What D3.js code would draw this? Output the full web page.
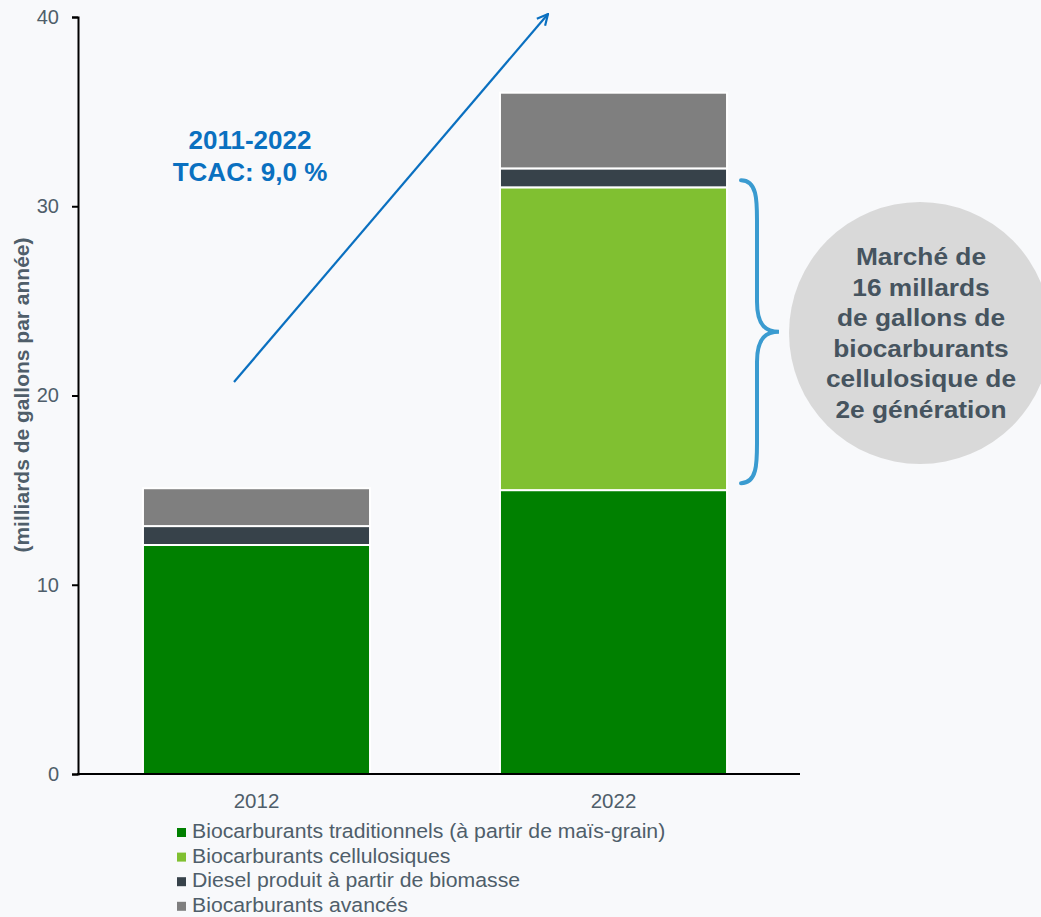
<!DOCTYPE html>
<html>
<head>
<meta charset="utf-8">
<script src="https://cdn.jsdelivr.net/npm/d3@7"></script>
<style>
  html, body { margin: 0; padding: 0; background: #f8f9fb; }
  svg { display: block; font-family: Arial, "Liberation Sans", sans-serif; }
</style>
</head>
<body>
<div id="chart"></div>
<script>
// data
const years = ['2012', '2022'];
const seriesNames = [
    'Biocarburants traditionnels (à partir de maïs-grain)',
    'Biocarburants cellulosiques',
    'Diesel produit à partir de biomasse',
    'Biocarburants avancés'
];
const traditionnels = [12.1, 15.0];
const cellulosiques = [0, 16.0];
const diesel = [1.0, 1.0];
const avances = [2.0, 4.0];
const yTicks = [0, 10, 20, 30, 40];
const colors = ['#008000', '#80c031', '#37424a', '#7f7f7f'];
const textColor = '#4f5e6a';
const fontFamily = 'Arial, "Liberation Sans", sans-serif';

const width = 1041, height = 917;
const svg = d3.select('#chart').append('svg')
    .attr('width', width)
    .attr('height', height);

// scales
const x = d3.scaleBand()
    .domain(years)
    .range([78, 792])
    .paddingInner(0.364)
    .paddingOuter(0.182);

const y = d3.scaleLinear()
    .domain([0, 40])
    .range([774, 17]);

// stack the series
const rows = years.map((yr, i) => ({
    year: yr,
    s0: traditionnels[i],
    s1: cellulosiques[i],
    s2: diesel[i],
    s3: avances[i]
}));
const stack = d3.stack().keys(['s0', 's1', 's2', 's3']);
const layers = stack(rows);

svg.append('g')
    .selectAll('g')
    .data(layers)
    .join('g')
    .attr('fill', (d, i) => colors[i])
    .selectAll('rect')
    .data(d => d.filter(p => p[1] - p[0] > 0))
    .join('rect')
    .attr('x', d => x(d.data.year))
    .attr('width', x.bandwidth())
    .attr('y', d => y(d[1]))
    .attr('height', d => y(d[0]) - y(d[1]))
    .attr('stroke', '#ffffff')
    .attr('stroke-width', 2);

// y axis
const yAxis = svg.append('g')
    .attr('transform', 'translate(78,0)')
    .call(d3.axisLeft(y).tickValues(yTicks).tickSize(6).tickPadding(13));
yAxis.select('.domain').attr('stroke', '#000').attr('stroke-width', 2);
yAxis.selectAll('.tick line').attr('stroke', '#000').attr('stroke-width', 2);
yAxis.selectAll('.tick text')
    .attr('fill', textColor)
    .style('font-size', '20px')
    .style('font-family', fontFamily);

// x axis
const xAxis = svg.append('g')
    .attr('transform', 'translate(0,774)')
    .call(d3.axisBottom(x).tickSize(0).tickPadding(19));
xAxis.select('.domain').remove();
xAxis.append('line')
    .attr('x1', 77).attr('x2', 800)
    .attr('stroke', '#000').attr('stroke-width', 2);
xAxis.selectAll('.tick text')
    .attr('fill', textColor)
    .style('font-size', '20.5px')
    .style('font-family', fontFamily);

// y axis title
svg.append('text')
    .attr('transform', 'translate(29,395) rotate(-90)')
    .attr('text-anchor', 'middle')
    .attr('fill', textColor)
    .style('font-size', '21px')
    .style('font-weight', 'bold')
    .text('(milliards de gallons par année)');

// growth arrow
svg.append('defs').append('marker')
    .attr('id', 'arrowhead')
    .attr('viewBox', '0 0 12 12')
    .attr('refX', 11).attr('refY', 6)
    .attr('markerWidth', 13).attr('markerHeight', 13)
    .attr('markerUnits', 'userSpaceOnUse')
    .attr('orient', 'auto')
    .append('path')
    .attr('d', 'M1,1 L11,6 L1,11')
    .attr('fill', 'none')
    .attr('stroke', '#0a70c0')
    .attr('stroke-width', 2);

svg.append('line')
    .attr('x1', 234).attr('y1', 382)
    .attr('x2', 548).attr('y2', 14)
    .attr('stroke', '#0a70c0')
    .attr('stroke-width', 2.2)
    .attr('marker-end', 'url(#arrowhead)');

const cagr = svg.append('text')
    .attr('text-anchor', 'middle')
    .attr('fill', '#0a70c0')
    .style('font-size', '26px')
    .style('font-weight', 'bold');
cagr.append('tspan').attr('x', 250).attr('y', 149).text('2011-2022');
cagr.append('tspan').attr('x', 250).attr('y', 181).text('TCAC: 9,0 %');

// brace next to the cellulosic segment
const bTop = y(traditionnels[1] + cellulosiques[1]) - 7;
const bBot = y(traditionnels[1]) - 7;
const bMid = (bTop + bBot) / 2;
const bx = 741;
svg.append('path')
    .attr('d', `M${bx},${bTop} C${bx + 16},${bTop} ${bx + 16},${bTop + 20} ${bx + 16},${bTop + 40}
                L${bx + 16},${bMid - 30}
                C${bx + 16},${bMid - 5} ${bx + 26},${bMid} ${bx + 38},${bMid}
                C${bx + 26},${bMid} ${bx + 16},${bMid + 5} ${bx + 16},${bMid + 30}
                L${bx + 16},${bBot - 40}
                C${bx + 16},${bBot - 20} ${bx + 16},${bBot} ${bx},${bBot}`)
    .attr('fill', 'none')
    .attr('stroke', '#3a9bd0')
    .attr('stroke-width', 4)
    .attr('stroke-linecap', 'round');

// market bubble
svg.append('circle')
    .attr('cx', 920).attr('cy', 333).attr('r', 131)
    .attr('fill', '#d9d9d9');

const bubbleLines = ['Marché de', '16 millards', 'de gallons de', 'biocarburants', 'cellulosique de', '2e génération'];
svg.append('text')
    .attr('transform', 'translate(921,0) scale(1.12,1)')
    .attr('text-anchor', 'middle')
    .attr('fill', '#46545f')
    .style('font-size', '23.5px')
    .style('font-weight', 'bold')
    .selectAll('tspan')
    .data(bubbleLines)
    .join('tspan')
    .attr('x', 0)
    .attr('y', (d, i) => 265 + i * 30.6)
    .text(d => d);

// legend
const legend = svg.append('g')
    .attr('transform', 'translate(177,838)');
const item = legend.selectAll('g')
    .data(seriesNames)
    .join('g')
    .attr('transform', (d, i) => `translate(0,${i * 24.6})`);
item.append('rect')
    .attr('x', 0).attr('y', -10)
    .attr('width', 9).attr('height', 9)
    .attr('fill', (d, i) => colors[i]);
item.append('text')
    .attr('transform', 'translate(15,0) scale(1.09,1)')
    .attr('fill', textColor)
    .style('font-size', '19.5px')
    .text(d => d);
</script>
</body>
</html>
